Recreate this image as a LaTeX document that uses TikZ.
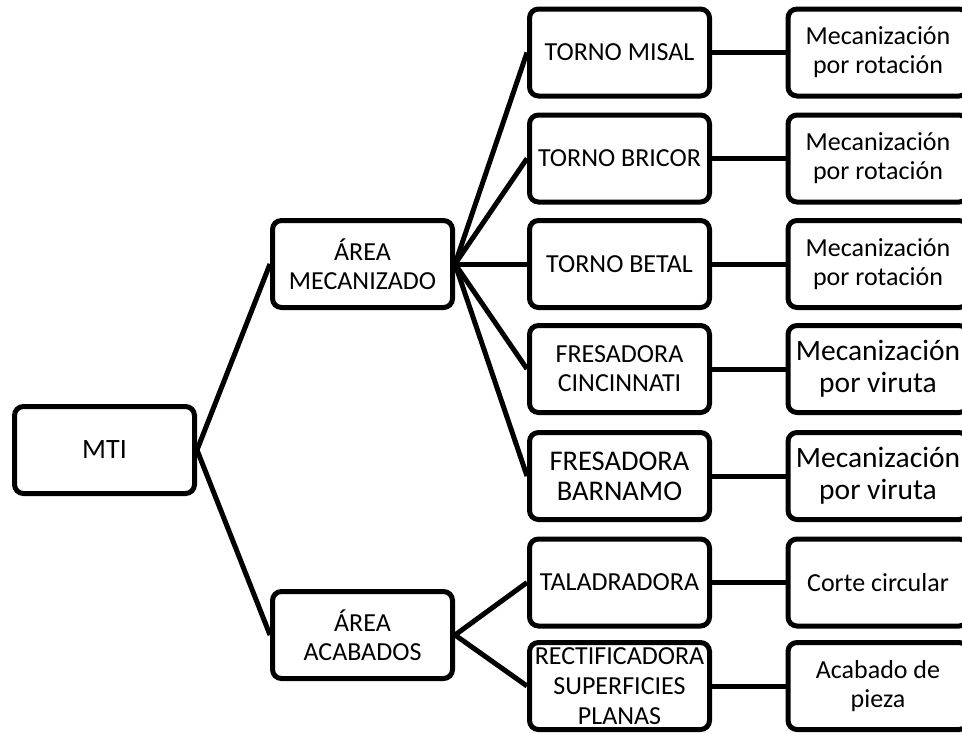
\documentclass[tikz,border=0pt]{standalone}
\usepackage{fontspec}
\setmainfont{Carlito}
\tikzset{
  box/.style={draw=black, line width=5pt, rounded corners=9pt, fill=white,
    minimum width=180pt, minimum height=87pt, inner sep=0pt, align=center,
    font=\fontsize{26}{29}\selectfont},
  bigtext/.style={font=\fontsize{29.5}{32}\selectfont},
  link/.style={draw=black, line width=5pt, line join=round},
}
\begin{document}
\begin{tikzpicture}[x=1pt, y=-1pt]
  \clip (0,0) rectangle (962,734);
  \fill[white] (0,0) rectangle (962,734);

  % root
  \node[box, font=\fontsize{28}{30}\selectfont] (mti) at (104.5,450) {MTI};

  % areas
  \node[box] (mec) at (362.5,264) {ÁREA\\MECANIZADO};
  \node[box] (aca) at (362.5,635) {ÁREA\\ACABADOS};

  % machines
  \node[box] (misal)  at (619.5,52.5)  {TORNO MISAL};
  \node[box] (bricor) at (619.5,158.5) {TORNO BRICOR};
  \node[box] (betal)  at (619.5,264)   {TORNO BETAL};
  \node[box] (cinc)   at (619.5,369)   {FRESADORA\\CINCINNATI};
  \node[box, font=\fontsize{28.5}{30}\selectfont] (barn) at (619.5,476) {FRESADORA\\BARNAMO};
  \node[box] (tala)   at (619.5,582.5) {TALADRADORA};
  \node[box, font=\fontsize{26}{30}\selectfont] (rect) at (619.5,686) {RECTIFICADORA\\SUPERFICIES\\PLANAS};

  % processes
  \node[box] (pmisal)  at (878,52.5)  {Mecanización\\por rotación};
  \node[box] (pbricor) at (878,158.5) {Mecanización\\por rotación};
  \node[box] (pbetal)  at (878,264)   {Mecanización\\por rotación};
  \node[box, bigtext] (pcinc) at (878,369) {Mecanización\\por viruta};
  \node[box, bigtext] (pbarn) at (878,476) {Mecanización\\por viruta};
  \node[box] (ptala)   at (878,582.5) {Corte circular};
  \node[box] (prect)   at (878,686)   {Acabado de\\pieza};

  % connectors
  \draw[link] (mti.east) -- (mec.west);
  \draw[link] (mti.east) -- (aca.west);
  \foreach \m in {misal,bricor,betal,cinc,barn}
    \draw[link] (mec.east) -- (\m.west);
  \foreach \m in {tala,rect}
    \draw[link] (aca.east) -- (\m.west);
  \foreach \m/\p in {misal/pmisal,bricor/pbricor,betal/pbetal,cinc/pcinc,barn/pbarn,tala/ptala,rect/prect}
    \draw[link] (\m.east) -- (\p.west);
\end{tikzpicture}
\end{document}
